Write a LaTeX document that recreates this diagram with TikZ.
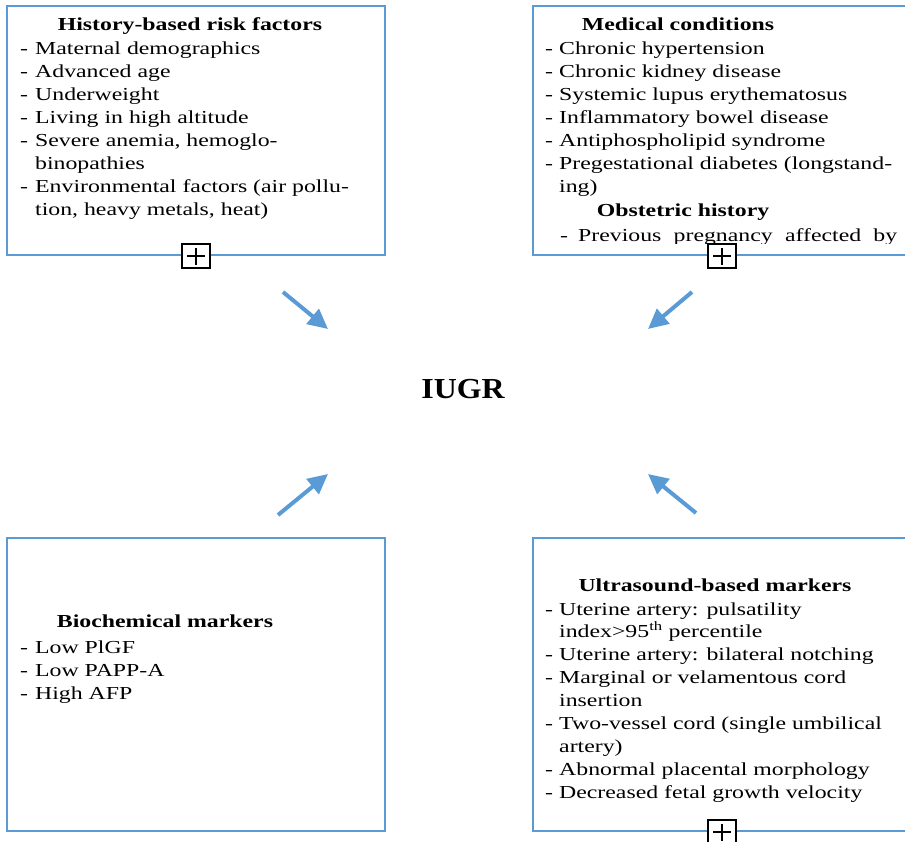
\documentclass[tikz,border=0pt]{standalone}
\usepackage{fontspec}
\setmainfont{Liberation Serif}
\newfontfamily\panelfont[FakeStretch=1.3]{Liberation Serif}
\newfontfamily\hubfont[FakeStretch=1.1]{Liberation Serif}
\usetikzlibrary{arrows.meta}
\definecolor{frameblue}{RGB}{91,155,213}
% list bullet: a hyphen in a fixed-width slot
\newcommand\bul[1][15pt]{\makebox[#1][l]{-}}

\begin{document}
\begin{tikzpicture}[x=1pt,y=-1pt,
  panel/.style={draw=frameblue, line width=2.2pt, minimum width=378pt,
    inner sep=0pt, anchor=north west},
  heading/.style={font=\panelfont\fontsize{18.3}{23}\selectfont\bfseries,
    inner sep=0pt, anchor=base},
  entry/.style={font=\panelfont\fontsize{18.3}{23}\selectfont,
    inner sep=0pt, anchor=base west},
  expander/.style={draw=black, fill=white, line width=1.7pt,
    minimum width=28pt, minimum height=24pt, inner sep=0pt,
    path picture={
      \draw[line width=1.7pt]
        ([xshift=-9pt]path picture bounding box.center) --
        ([xshift=9pt]path picture bounding box.center);
      \draw[line width=1.7pt]
        ([yshift=-8.5pt]path picture bounding box.center) --
        ([yshift=8.5pt]path picture bounding box.center);}},
  feed/.style={draw=frameblue, line width=4pt,
    -{Triangle[length=20pt,width=19pt]}}
]
\useasboundingbox (0,0) rectangle (905,842);

% ---------- panels ----------
\node[panel, minimum height=249pt] (hist) at (6,5) {};
\node[panel, minimum height=249pt] (med) at (532,5) {};
\node[panel, minimum height=293pt] (bio) at (6,537) {};
\node[panel, minimum height=293pt] (us) at (532,537) {};

% ---------- history-based risk factors ----------
\node[heading] (histT) at (190,31) {History-based risk factors};
\node[entry] (h1) at (20,55)  {\bul Maternal demographics};
\node[entry] (h2) at (20,78)  {\bul Advanced age};
\node[entry] (h3) at (20,101) {\bul Underweight};
\node[entry] (h4) at (20,124) {\bul Living in high altitude};
\node[entry] (h5) at (20,147) {\bul Severe anemia, hemoglo-};
\node[entry] (h6) at (35,170) {binopathies};
\node[entry] (h7) at (20,193) {\bul Environmental factors (air pollu-};
\node[entry] (h8) at (35,216) {tion, heavy metals, heat)};

% ---------- medical conditions / obstetric history ----------
\node[heading] (medT) at (678,31) {Medical conditions};
\node[entry] (m1) at (545,55)  {\bul[14pt]Chronic hypertension};
\node[entry] (m2) at (545,78)  {\bul[14pt]Chronic kidney disease};
\node[entry] (m3) at (545,101) {\bul[14pt]Systemic lupus erythematosus};
\node[entry] (m4) at (545,124) {\bul[14pt]Inflammatory bowel disease};
\node[entry] (m5) at (545,147) {\bul[14pt]Antiphospholipid syndrome};
\node[entry] (m6) at (545,170) {\bul[14pt]Pregestational diabetes (longstand-};
\node[entry] (m7) at (559,193) {ing)};
\node[heading] (obsT) at (683,217) {Obstetric history};
\begin{scope}
  % the overflowing line is cut off just under its baseline
  \clip (532,200) rectangle (910,243.8);
  \node[entry] (o1) at (560,242)
    {\bul[18pt]\makebox[319pt][s]{Previous pregnancy affected by}};
\end{scope}

% ---------- biochemical markers ----------
\node[heading] (bioT) at (165,627) {Biochemical markers};
\node[entry] (b1) at (20,653) {\bul Low PlGF};
\node[entry] (b2) at (20,676) {\bul Low PAPP-A};
\node[entry] (b3) at (20,699) {\bul High AFP};

% ---------- ultrasound-based markers ----------
\node[heading] (usT) at (715,591) {Ultrasound-based markers};
\node[entry] (u1) at (545,615) {\bul[14pt]Uterine artery: pulsatility};
\node[entry] (u2) at (559,637) {index>95\textsuperscript{th} percentile};
\node[entry] (u3) at (545,660) {\bul[14pt]Uterine artery: bilateral notching};
\node[entry] (u4) at (545,683) {\bul[14pt]Marginal or velamentous cord};
\node[entry] (u5) at (559,706) {insertion};
\node[entry] (u6) at (545,729) {\bul[14pt]Two-vessel cord (single umbilical};
\node[entry] (u7) at (559,752) {artery)};
\node[entry] (u8) at (545,775) {\bul[14pt]Abnormal placental morphology};
\node[entry] (u9) at (545,798) {\bul[14pt]Decreased fetal growth velocity};

% ---------- expand markers on panel edges ----------
\node[expander] (histX) at (hist.south) {};
\node[expander] (medX) at (med.south) {};
\node[expander] (usX) at (us.south) {};

% ---------- centre ----------
\node[font=\hubfont\fontsize{29}{32}\selectfont\bfseries, inner sep=0pt,
  anchor=base] (iugr) at (463,398) {IUGR};

% ---------- arrows towards the centre ----------
\coordinate (a1s) at (283,292);
\coordinate (a1e) at (328,329);
\coordinate (a2s) at (692,292);
\coordinate (a2e) at (648,329);
\coordinate (a3s) at (278,515);
\coordinate (a3e) at (328,474);
\coordinate (a4s) at (696,513);
\coordinate (a4e) at (648,474);
\draw[feed] (a1s) -- (a1e);
\draw[feed] (a2s) -- (a2e);
\draw[feed] (a3s) -- (a3e);
\draw[feed] (a4s) -- (a4e);
\end{tikzpicture}
\end{document}
